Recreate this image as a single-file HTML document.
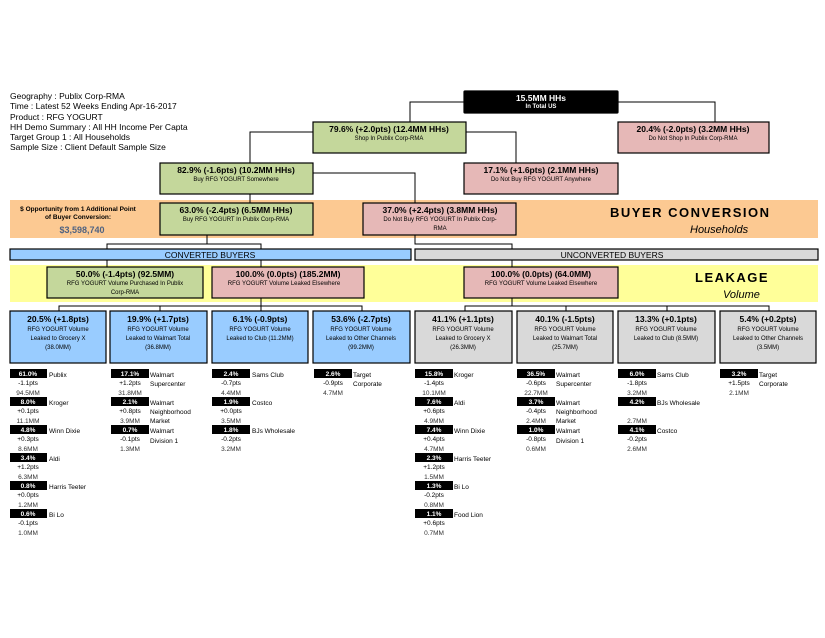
<!DOCTYPE html>
<html><head><meta charset="utf-8"><style>
html,body{margin:0;padding:0;background:#fff}
svg{display:block;font-family:"Liberation Sans",Arial,sans-serif}
.h{font-size:8.5px;fill:#000}
.t{font-size:8.5px;font-weight:bold;text-anchor:middle}
.s{font-size:6px;text-anchor:middle}
.bw{font-size:6.5px;font-weight:bold;fill:#fff;text-anchor:middle}
.n{font-size:6.5px}
.d{font-size:6.5px;text-anchor:middle}
.m{font-size:6.5px;text-anchor:middle;fill:#333}
</style></head><body>
<svg width="825" height="638" viewBox="0 0 825 638" xmlns="http://www.w3.org/2000/svg">
<rect width="825" height="638" fill="#fff"/>
<g class="h">
<text x="10" y="99">Geography : Publix Corp-RMA</text>
<text x="10" y="109">Time : Latest 52 Weeks Ending Apr-16-2017</text>
<text x="10" y="120">Product : RFG YOGURT</text>
<text x="10" y="130">HH Demo Summary : All HH Income Per Capta</text>
<text x="10" y="140">Target Group 1 : All Households</text>
<text x="10" y="150">Sample Size : Client Default Sample Size</text>
</g>
<!-- bands -->
<rect x="10" y="200" width="808" height="38" fill="#fcc992"/>
<rect x="10" y="265" width="808" height="37" fill="#ffff99"/>
<!-- connectors -->
<g stroke="#000" stroke-width="1" fill="none">
<polyline points="464,102 410,102 410,122"/>
<polyline points="618,102 715,102 715,122"/>
<polyline points="466,132 516,132 516,163"/>
<polyline points="313,132 250,132 250,163"/>
<polyline points="250,194 250,203"/>
<polyline points="313,173 415,173 415,203"/>
<polyline points="207,235 207,244"/>
<polyline points="107,249 107,244 261,244 261,249"/>
<polyline points="415,235 415,244 512,244 512,249"/>
<line x1="107" y1="260" x2="107" y2="267"/>
<line x1="261" y1="260" x2="261" y2="267"/>
<line x1="512" y1="260" x2="512" y2="267"/>
<polyline points="261,298 261,306"/>
<polyline points="59,311 59,306 362,306 362,311"/>
<line x1="160" y1="306" x2="160" y2="311"/><line x1="261" y1="306" x2="261" y2="311"/>
<polyline points="512,298 512,306"/>
<polyline points="465,311 465,306 769,306 769,311"/>
<line x1="566" y1="306" x2="566" y2="311"/><line x1="667" y1="306" x2="667" y2="311"/>
</g>
<!-- boxes -->
<g stroke="#000" stroke-width="1.2">
<rect x="464" y="91" width="154" height="22" fill="#000" rx="1"/>
<rect x="313" y="122" width="153" height="31" fill="#c4d79b"/>
<rect x="618" y="122" width="151" height="31" fill="#e6b8b7"/>
<rect x="160" y="163" width="153" height="31" fill="#c4d79b"/>
<rect x="464" y="163" width="154" height="31" fill="#e6b8b7"/>
<rect x="160" y="203" width="153" height="32" fill="#c4d79b"/>
<rect x="363" y="203" width="153" height="32" fill="#e6b8b7"/>
<rect x="10" y="249" width="401" height="11" fill="#99ccff"/>
<rect x="415" y="249" width="403" height="11" fill="#d9d9d9"/>
<rect x="47" y="267" width="156" height="31" fill="#c4d79b"/>
<rect x="212" y="267" width="152" height="31" fill="#e6b8b7"/>
<rect x="464" y="267" width="154" height="31" fill="#e6b8b7"/>
<rect x="10" y="311" width="96" height="52" fill="#99ccff"/>
<rect x="110" y="311" width="97" height="52" fill="#99ccff"/>
<rect x="212" y="311" width="96" height="52" fill="#99ccff"/>
<rect x="313" y="311" width="97" height="52" fill="#99ccff"/>
<rect x="415" y="311" width="97" height="52" fill="#d9d9d9"/>
<rect x="517" y="311" width="96" height="52" fill="#d9d9d9"/>
<rect x="618" y="311" width="97" height="52" fill="#d9d9d9"/>
<rect x="720" y="311" width="96" height="52" fill="#d9d9d9"/>
</g>
<!-- box text -->
<text class="t" x="541" y="101" fill="#fff">15.5MM HHs</text>
<text class="s" x="541" y="108" fill="#fff" font-weight="bold">In Total US</text>
<text class="t" x="389" y="132">79.6% (+2.0pts) (12.4MM HHs)</text>
<text class="s" x="389" y="140">Shop In Publix Corp-RMA</text>
<text class="t" x="693" y="132">20.4% (-2.0pts) (3.2MM HHs)</text>
<text class="s" x="693" y="140">Do Not Shop In Publix Corp-RMA</text>
<text class="t" x="236" y="173">82.9% (-1.6pts) (10.2MM HHs)</text>
<text class="s" x="236" y="181">Buy RFG YOGURT Somewhere</text>
<text class="t" x="541" y="173">17.1% (+1.6pts) (2.1MM HHs)</text>
<text class="s" x="541" y="181">Do Not Buy RFG YOGURT Anywhere</text>
<text class="t" x="236" y="213">63.0% (-2.4pts) (6.5MM HHs)</text>
<text class="s" x="236" y="221">Buy RFG YOGURT In Publix Corp-RMA</text>
<text class="t" x="440" y="213">37.0% (+2.4pts) (3.8MM HHs)</text>
<text class="s" x="440" y="221">Do Not Buy RFG YOGURT In Publix Corp-</text>
<text class="s" x="440" y="230">RMA</text>
<text x="78" y="211" font-size="6.5" font-weight="bold" text-anchor="middle">$ Opportunity from 1 Additional Point</text>
<text x="78" y="219" font-size="6.5" font-weight="bold" text-anchor="middle">of Buyer Conversion:</text>
<text x="82" y="233" font-size="9" font-weight="bold" text-anchor="middle" fill="#4f6281">$3,598,740</text>
<text x="610" y="217" font-size="13" font-weight="bold" letter-spacing="1.5">BUYER CONVERSION</text>
<text x="690" y="233" font-size="11" font-style="italic">Households</text>
<text x="210" y="258" font-size="8.5" text-anchor="middle">CONVERTED BUYERS</text>
<text x="612" y="258" font-size="8.5" text-anchor="middle">UNCONVERTED BUYERS</text>
<text class="t" x="125" y="277">50.0% (-1.4pts) (92.5MM)</text>
<text class="s" x="125" y="285">RFG YOGURT Volume Purchased In Publix</text>
<text class="s" x="125" y="294">Corp-RMA</text>
<text class="t" x="288" y="277">100.0% (0.0pts) (185.2MM)</text>
<text class="s" x="284" y="285">RFG YOGURT Volume Leaked Elsewhere</text>
<text class="t" x="541" y="277">100.0% (0.0pts) (64.0MM)</text>
<text class="s" x="541" y="285">RFG YOGURT Volume Leaked Elsewhere</text>
<text x="695" y="282" font-size="13" font-weight="bold" letter-spacing="1.5">LEAKAGE</text>
<text x="723" y="298" font-size="11" font-style="italic">Volume</text>
<g>
<text class="t" x="58" y="322">20.5% (+1.8pts)</text><text class="s" x="58" y="331">RFG YOGURT Volume</text><text class="s" x="58" y="340">Leaked to Grocery X</text><text class="s" x="58" y="349">(38.0MM)</text>
<text class="t" x="158" y="322">19.9% (+1.7pts)</text><text class="s" x="158" y="331">RFG YOGURT Volume</text><text class="s" x="158" y="340">Leaked to Walmart Total</text><text class="s" x="158" y="349">(36.8MM)</text>
<text class="t" x="260" y="322">6.1% (-0.9pts)</text><text class="s" x="260" y="331">RFG YOGURT Volume</text><text class="s" x="260" y="340">Leaked to Club (11.2MM)</text>
<text class="t" x="361" y="322">53.6% (-2.7pts)</text><text class="s" x="361" y="331">RFG YOGURT Volume</text><text class="s" x="361" y="340">Leaked to Other Channels</text><text class="s" x="361" y="349">(99.2MM)</text>
<text class="t" x="463" y="322">41.1% (+1.1pts)</text><text class="s" x="463" y="331">RFG YOGURT Volume</text><text class="s" x="463" y="340">Leaked to Grocery X</text><text class="s" x="463" y="349">(26.3MM)</text>
<text class="t" x="565" y="322">40.1% (-1.5pts)</text><text class="s" x="565" y="331">RFG YOGURT Volume</text><text class="s" x="565" y="340">Leaked to Walmart Total</text><text class="s" x="565" y="349">(25.7MM)</text>
<text class="t" x="666" y="322">13.3% (+0.1pts)</text><text class="s" x="666" y="331">RFG YOGURT Volume</text><text class="s" x="666" y="340">Leaked to Club (8.5MM)</text>
<text class="t" x="768" y="322">5.4% (+0.2pts)</text><text class="s" x="768" y="331">RFG YOGURT Volume</text><text class="s" x="768" y="340">Leaked to Other Channels</text><text class="s" x="768" y="349">(3.5MM)</text>
</g>
<!-- lists: black boxes -->
<g fill="#000">
<rect x="10" y="369" width="37" height="9"/><rect x="10" y="397" width="37" height="9"/><rect x="10" y="425" width="37" height="9"/><rect x="10" y="453" width="37" height="9"/><rect x="10" y="481" width="37" height="9"/><rect x="10" y="509" width="37" height="9"/>
<rect x="111" y="369" width="38" height="9"/><rect x="111" y="397" width="38" height="9"/><rect x="111" y="425" width="38" height="9"/>
<rect x="212" y="369" width="38" height="9"/><rect x="212" y="397" width="38" height="9"/><rect x="212" y="425" width="38" height="9"/>
<rect x="314" y="369" width="38" height="9"/>
<rect x="415" y="369" width="38" height="9"/><rect x="415" y="397" width="38" height="9"/><rect x="415" y="425" width="38" height="9"/><rect x="415" y="453" width="38" height="9"/><rect x="415" y="481" width="38" height="9"/><rect x="415" y="509" width="38" height="9"/>
<rect x="517" y="369" width="38" height="9"/><rect x="517" y="397" width="38" height="9"/><rect x="517" y="425" width="38" height="9"/>
<rect x="618" y="369" width="38" height="9"/><rect x="618" y="397" width="38" height="9"/><rect x="618" y="425" width="38" height="9"/>
<rect x="720" y="369" width="38" height="9"/>
</g>
<!-- L1 -->
<text class="bw" x="28" y="376">61.0%</text><text class="n" x="49" y="377">Publix</text><text class="d" x="28" y="385">-1.1pts</text><text class="m" x="28" y="395">94.5MM</text>
<text class="bw" x="28" y="404">8.0%</text><text class="n" x="49" y="405">Kroger</text><text class="d" x="28" y="413">+0.1pts</text><text class="m" x="28" y="423">11.1MM</text>
<text class="bw" x="28" y="432">4.8%</text><text class="n" x="49" y="433">Winn Dixie</text><text class="d" x="28" y="441">+0.3pts</text><text class="m" x="28" y="451">8.6MM</text>
<text class="bw" x="28" y="460">3.4%</text><text class="n" x="49" y="461">Aldi</text><text class="d" x="28" y="469">+1.2pts</text><text class="m" x="28" y="479">6.3MM</text>
<text class="bw" x="28" y="488">0.8%</text><text class="n" x="49" y="489">Harris Teeter</text><text class="d" x="28" y="497">+0.0pts</text><text class="m" x="28" y="507">1.2MM</text>
<text class="bw" x="28" y="516">0.6%</text><text class="n" x="49" y="517">Bi Lo</text><text class="d" x="28" y="525">-0.1pts</text><text class="m" x="28" y="535">1.0MM</text>
<!-- L2 -->
<text class="bw" x="130" y="376">17.1%</text><text class="n" x="150" y="377">Walmart</text><text class="n" x="150" y="386">Supercenter</text><text class="d" x="130" y="385">+1.2pts</text><text class="m" x="130" y="395">31.8MM</text>
<text class="bw" x="130" y="404">2.1%</text><text class="n" x="150" y="405">Walmart</text><text class="n" x="150" y="414">Neighborhood</text><text class="n" x="150" y="423">Market</text><text class="d" x="130" y="413">+0.8pts</text><text class="m" x="130" y="423">3.9MM</text>
<text class="bw" x="130" y="432">0.7%</text><text class="n" x="150" y="433">Walmart</text><text class="n" x="150" y="443">Division 1</text><text class="d" x="130" y="441">-0.1pts</text><text class="m" x="130" y="451">1.3MM</text>
<!-- L3 -->
<text class="bw" x="231" y="376">2.4%</text><text class="n" x="252" y="377">Sams Club</text><text class="d" x="231" y="385">-0.7pts</text><text class="m" x="231" y="395">4.4MM</text>
<text class="bw" x="231" y="404">1.9%</text><text class="n" x="252" y="405">Costco</text><text class="d" x="231" y="413">+0.0pts</text><text class="m" x="231" y="423">3.5MM</text>
<text class="bw" x="231" y="432">1.8%</text><text class="n" x="252" y="433">BJs Wholesale</text><text class="d" x="231" y="441">-0.2pts</text><text class="m" x="231" y="451">3.2MM</text>
<!-- L4 -->
<text class="bw" x="333" y="376">2.6%</text><text class="n" x="353" y="377">Target</text><text class="n" x="353" y="386">Corporate</text><text class="d" x="333" y="385">-0.9pts</text><text class="m" x="333" y="395">4.7MM</text>
<!-- R1 -->
<text class="bw" x="434" y="376">15.8%</text><text class="n" x="454" y="377">Kroger</text><text class="d" x="434" y="385">-1.4pts</text><text class="m" x="434" y="395">10.1MM</text>
<text class="bw" x="434" y="404">7.6%</text><text class="n" x="454" y="405">Aldi</text><text class="d" x="434" y="413">+0.6pts</text><text class="m" x="434" y="423">4.9MM</text>
<text class="bw" x="434" y="432">7.4%</text><text class="n" x="454" y="433">Winn Dixie</text><text class="d" x="434" y="441">+0.4pts</text><text class="m" x="434" y="451">4.7MM</text>
<text class="bw" x="434" y="460">2.3%</text><text class="n" x="454" y="461">Harris Teeter</text><text class="d" x="434" y="469">+1.2pts</text><text class="m" x="434" y="479">1.5MM</text>
<text class="bw" x="434" y="488">1.3%</text><text class="n" x="454" y="489">Bi Lo</text><text class="d" x="434" y="497">-0.2pts</text><text class="m" x="434" y="507">0.8MM</text>
<text class="bw" x="434" y="516">1.1%</text><text class="n" x="454" y="517">Food Lion</text><text class="d" x="434" y="525">+0.6pts</text><text class="m" x="434" y="535">0.7MM</text>
<!-- R2 -->
<text class="bw" x="536" y="376">36.5%</text><text class="n" x="556" y="377">Walmart</text><text class="n" x="556" y="386">Supercenter</text><text class="d" x="536" y="385">-0.6pts</text><text class="m" x="536" y="395">22.7MM</text>
<text class="bw" x="536" y="404">3.7%</text><text class="n" x="556" y="405">Walmart</text><text class="n" x="556" y="414">Neighborhood</text><text class="n" x="556" y="423">Market</text><text class="d" x="536" y="413">-0.4pts</text><text class="m" x="536" y="423">2.4MM</text>
<text class="bw" x="536" y="432">1.0%</text><text class="n" x="556" y="433">Walmart</text><text class="n" x="556" y="443">Division 1</text><text class="d" x="536" y="441">-0.8pts</text><text class="m" x="536" y="451">0.6MM</text>
<!-- R3 -->
<text class="bw" x="637" y="376">6.0%</text><text class="n" x="657" y="377">Sams Club</text><text class="d" x="637" y="385">-1.8pts</text><text class="m" x="637" y="395">3.2MM</text>
<text class="bw" x="637" y="404">4.2%</text><text class="n" x="657" y="405">BJs Wholesale</text><text class="m" x="637" y="423">2.7MM</text>
<text class="bw" x="637" y="432">4.1%</text><text class="n" x="657" y="433">Costco</text><text class="d" x="637" y="441">-0.2pts</text><text class="m" x="637" y="451">2.6MM</text>
<!-- R4 -->
<text class="bw" x="739" y="376">3.2%</text><text class="n" x="759" y="377">Target</text><text class="n" x="759" y="386">Corporate</text><text class="d" x="739" y="385">+1.5pts</text><text class="m" x="739" y="395">2.1MM</text>
</svg>
</body></html>
